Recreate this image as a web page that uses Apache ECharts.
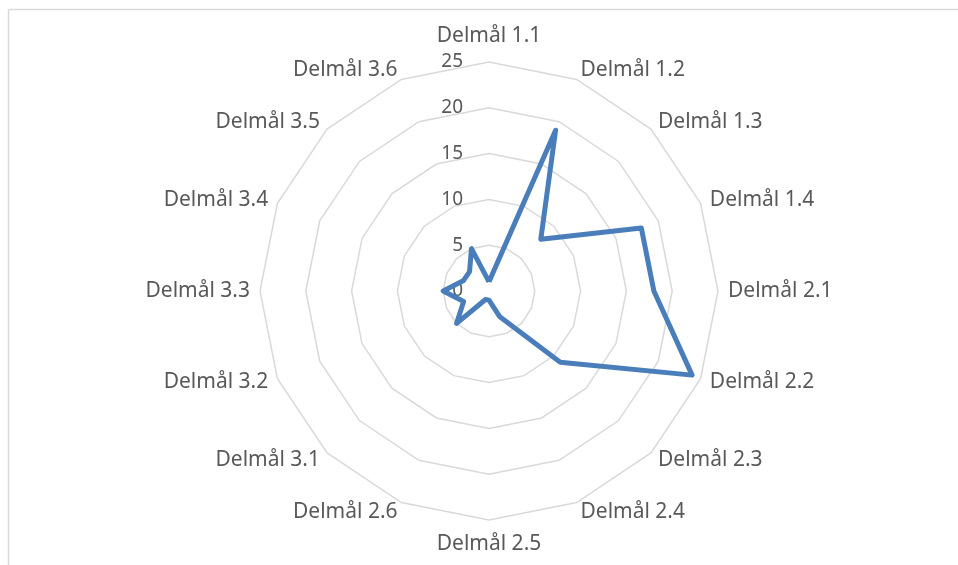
<!DOCTYPE html>
<html>
<head>
<meta charset="utf-8">
<script src="https://cdn.jsdelivr.net/npm/echarts@6/dist/echarts.min.js"></script>
<style>
html, body { margin: 0; padding: 0; background: #fff; }
#radar-1 { width: 958px; height: 565px; }
</style>
</head>
<body>
<div id="radar-1"></div>
<script>
var categories = ['Delmål 1.1','Delmål 1.2','Delmål 1.3','Delmål 1.4','Delmål 2.1','Delmål 2.2','Delmål 2.3','Delmål 2.4',
                  'Delmål 2.5','Delmål 2.6','Delmål 3.1','Delmål 3.2','Delmål 3.3','Delmål 3.4','Delmål 3.5','Delmål 3.6'];
var values = [1, 19, 8, 18, 18, 24, 11, 3, 1, 1, 5, 3, 5, 3, 3, 5];
var axisMax = 25;
var tickStep = 5;

(function(){
	var myChart = echarts.init(document.getElementById("radar-1"));

	// echarts radar runs counter-clockwise, excel clockwise -> keep first, reverse the rest
	var order = [0];
	for (var k = categories.length - 1; k > 0; k--) order.push(k);

	var indicator = order.map(function (i) {
		var item = {name: categories[i], min: 0, max: axisMax};
		if (i === 0) {
			item.axisLabel = {show: true};
			item.nameGap = 15;
		}
		if (i === 8) item.nameGap = 14;
		return item;
	});
	var seriesValues = order.map(function (i) { return values[i]; });

	option = {
    animation: false,
    textStyle: {
        fontFamily: 'Noto Sans'
    },
    graphic: [
        {type: 'line', shape: {x1: 8.5, y1: 9.5, x2: 958, y2: 9.5}, style: {stroke: '#d9d9d9', lineWidth: 1.5}},
        {type: 'line', shape: {x1: 8.5, y1: 9.5, x2: 8.5, y2: 565}, style: {stroke: '#d9d9d9', lineWidth: 1.5}}
    ],
    radar: {
        center: [489, 291],
        radius: 229,
        startAngle: 90,
        shape: 'polygon',
        splitNumber: axisMax / tickStep,
        nameGap: 10,
        axisName: {
            color: '#595959',
            fontSize: 21,
            fontFamily: 'Noto Sans'
        },
        axisLine: {show: false},
        axisTick: {show: false},
        axisLabel: {
            show: false,
            color: '#595959',
            fontSize: 19,
            fontFamily: 'Noto Sans',
            margin: 26,
            showMinLabel: true,
            showMaxLabel: true
        },
        splitLine: {
            lineStyle: {color: '#d9d9d9', width: 1.5}
        },
        splitArea: {show: false},
        indicator: indicator
    },
    series: [
        {
            name: 'Serie 1',
            type: 'radar',
            symbol: 'none',
            lineStyle: {color: '#4a7ebb', width: 5, join: 'round'},
            data: [
                {value: seriesValues, name: 'Serie 1'}
            ]
        }
    ]
};
	myChart.setOption(option);
})();
</script>
</body>
</html>
